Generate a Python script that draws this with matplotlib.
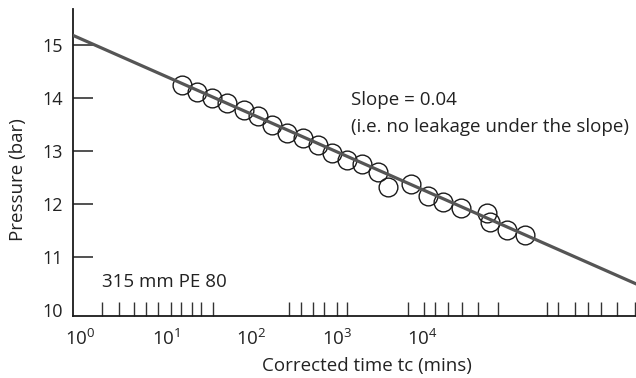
import matplotlib
matplotlib.use("Agg")
import matplotlib.pyplot as plt
from matplotlib.ticker import FixedLocator, NullFormatter, FixedFormatter

# measured points (corrected time in mins, pressure in bar)
time_tc = [15.4, 23.4, 34.4, 51.5, 82, 120, 173, 258, 404, 604, 865,
           1294, 1968, 3027, 3958, 7278, 11400, 17340, 27900, 56600,
           60800, 95300, 156000]
pressure = [14.25, 14.11, 14.00, 13.91, 13.78, 13.66, 13.50, 13.34, 13.25,
            13.11, 12.96, 12.83, 12.76, 12.60, 12.33, 12.38, 12.15, 12.05,
            11.92, 11.84, 11.67, 11.51, 11.42]

# fitted straight line (end points)
line_t = [0.8, 3.2e6]
line_p = [15.19, 10.49]

# tick stuff
x_labels = [r"$10^{0}$", r"$10^{1}$", r"$10^{2}$", r"$10^{3}$", r"$10^{4}$"]
x_major = [1, 10, 100, 1000, 10000]
x_minor = [1.79, 2.87, 4.27, 5.89, 8.07, 11.4, 15.0, 20.3, 26.0, 35.6,
           275, 376, 519, 713, 993, 1295,
           6670, 10330, 14070, 19950, 28650, 44650, 75340,
           283000, 375000, 597000, 847000, 1.21e6, 1.84e6, 2.98e6]
y_ticks = [10, 11, 12, 13, 14, 15]

plt.rcParams['font.family'] = ['Open Sans', 'DejaVu Sans']
plt.rcParams['mathtext.fontset'] = 'custom'
plt.rcParams['mathtext.rm'] = 'Open Sans'
plt.rcParams['mathtext.it'] = 'Open Sans'

txt = '#222222'

fig = plt.figure(figsize=(6.36, 3.78), dpi=100)
ax = fig.add_axes([73/636, 62/378, 1 - 73/636, (316 - 9)/378])

ax.plot(time_tc, pressure, 'o', ms=13.5, mfc='none', mec='#1a1a1a', mew=1.0, zorder=2)
ax.plot(line_t, line_p, color='#555555', lw=2.3, zorder=3)

ax.set_xscale('log')
ax.set_xlim(10 ** -0.082, 10 ** 6.49)
ax.set_ylim(9.895, 15.676)

ax.xaxis.set_major_locator(FixedLocator(x_major))
ax.xaxis.set_major_formatter(FixedFormatter(x_labels))
ax.xaxis.set_minor_locator(FixedLocator(x_minor))
ax.xaxis.set_minor_formatter(NullFormatter())
ax.tick_params(axis='x', which='major', length=0, pad=9, labelsize=13.5, labelcolor=txt)
ax.tick_params(axis='x', which='minor', direction='in', length=10, width=1.0, color='#333333')

ax.set_yticks(y_ticks)
ax.tick_params(axis='y', direction='in', length=14.5, width=1.2, color='#333333',
               labelsize=13, labelcolor=txt, pad=7)
ax.yaxis.get_major_ticks()[0].tick1line.set_visible(False)

for s in ['top', 'right']:
    ax.spines[s].set_visible(False)
for s in ['left', 'bottom']:
    ax.spines[s].set_linewidth(1.3)
    ax.spines[s].set_color('#1a1a1a')

fig.text(367/636, 1 - 366/378, "Corrected time tc (mins)", fontsize=13.5, color=txt,
         ha='center', va='center')
fig.text(18/636, 1 - 180/378, "Pressure (bar)", fontsize=13.5, color=txt,
         ha='center', va='center', rotation=90)

fig.text(102/636, 1 - 282/378, "315 mm PE 80", fontsize=13.5, color=txt, va='center', ha='left')
fig.text(351/636, 1 - 100/378, "Slope = 0.04", fontsize=13.5, color=txt, va='center', ha='left')
fig.text(351/636, 1 - 127/378, "(i.e. no leakage under the slope)", fontsize=13.5, color=txt,
         va='center', ha='left')

fig.savefig("out.png", dpi=100)
